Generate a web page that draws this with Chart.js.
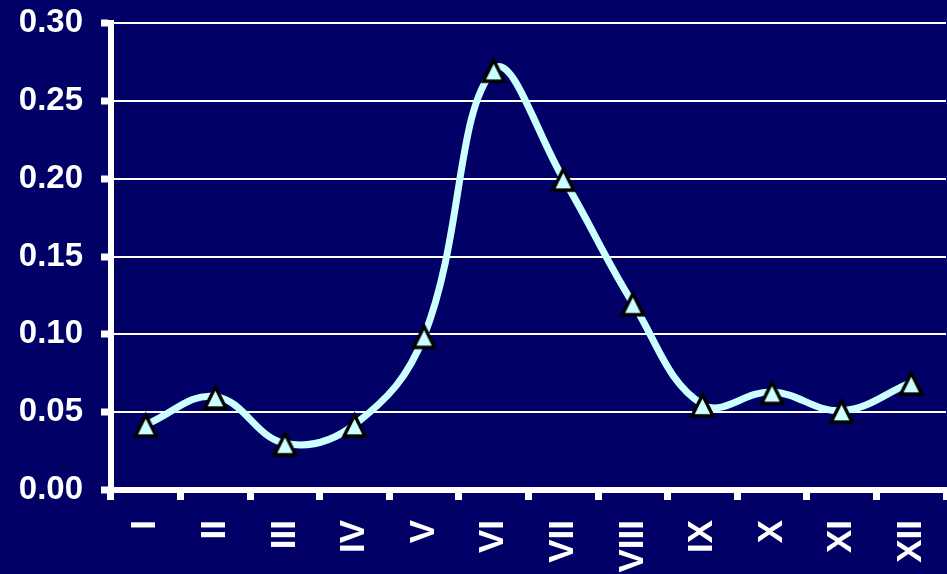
<!DOCTYPE html>
<html>
<head>
<meta charset="utf-8">
<script src="https://cdn.jsdelivr.net/npm/chart.js@4/dist/chart.umd.min.js"></script>
<style>
  html, body { margin: 0; padding: 0; background: #000066; }
  canvas { display: block; }
</style>
</head>
<body>
<canvas id="chart" width="947" height="574"></canvas>
<script>
// months as roman numerals
const months = ['I', 'II', 'III', 'IV', 'V', 'VI', 'VII', 'VIII', 'IX', 'X', 'XI', 'XII'];
const values = [0.042, 0.060, 0.030, 0.042, 0.099, 0.270, 0.200, 0.120, 0.055, 0.063, 0.051, 0.069];
const yMin = 0;
const yMax = 0.30;
const yStep = 0.05;

const lineColor = '#ccffff';
const white = '#ffffff';

// triangle marker centred on its box (like excel), not on its circumcentre
const marker = document.createElement('canvas');
marker.width = 29;
marker.height = 29;
const m = marker.getContext('2d');
m.beginPath();
m.moveTo(14.5, 5);
m.lineTo(25, 26);
m.lineTo(4, 26);
m.closePath();
m.fillStyle = lineColor;
m.fill();
m.lineWidth = 3.4;
m.lineJoin = 'miter';
m.strokeStyle = '#000000';
m.stroke();

// drop the extra room chart.js keeps for half labels
function noPad(scale) {
    scale.paddingTop = 0;
    scale.paddingBottom = 0;
    scale.paddingLeft = 0;
    scale.paddingRight = 0;
}

const ctx = document.getElementById('chart').getContext('2d');
const chart = new Chart(ctx, {
    type: 'line',
    data: {
        labels: months,
        datasets: [{
            data: values,
            borderColor: lineColor,
            borderWidth: 7,
            tension: 0.4,
            pointStyle: marker,
            pointRadius: 14,
            clip: false
        }]
    },
    options: {
        responsive: false,
        animation: false,
        devicePixelRatio: 1,
        layout: { autoPadding: false, padding: { top: 23, right: 1, left: 0, bottom: 0 } },
        plugins: {
            legend: { display: false },
            tooltip: { enabled: false }
        },
        scales: {
            x: {
                offset: true,
                grid: {
                    offset: true,
                    drawOnChartArea: false,
                    drawTicks: true,
                    tickLength: 10,
                    tickWidth: 7,
                    tickColor: white
                },
                border: { color: white, width: 6 },
                ticks: {
                    color: white,
                    autoSkip: false,
                    maxRotation: 90,
                    minRotation: 90,
                    padding: 20,
                    font: { family: 'Liberation Sans, Arial, sans-serif', size: 35, weight: 'bold' }
                },
                afterFit: (scale) => { scale.height = 84; noPad(scale); }
            },
            y: {
                min: yMin,
                max: yMax,
                ticks: {
                    stepSize: yStep,
                    color: white,
                    padding: 18,
                    font: { family: 'Liberation Sans, Arial, sans-serif', size: 33, weight: 'bold' },
                    callback: (v) => v.toFixed(2)
                },
                grid: {
                    color: white,
                    lineWidth: 2,
                    tickLength: 10,
                    tickWidth: 7,
                    tickColor: white
                },
                border: { color: white, width: 6 },
                afterFit: (scale) => { scale.width = 111; noPad(scale); }
            }
        }
    }
});
</script>
</body>
</html>
